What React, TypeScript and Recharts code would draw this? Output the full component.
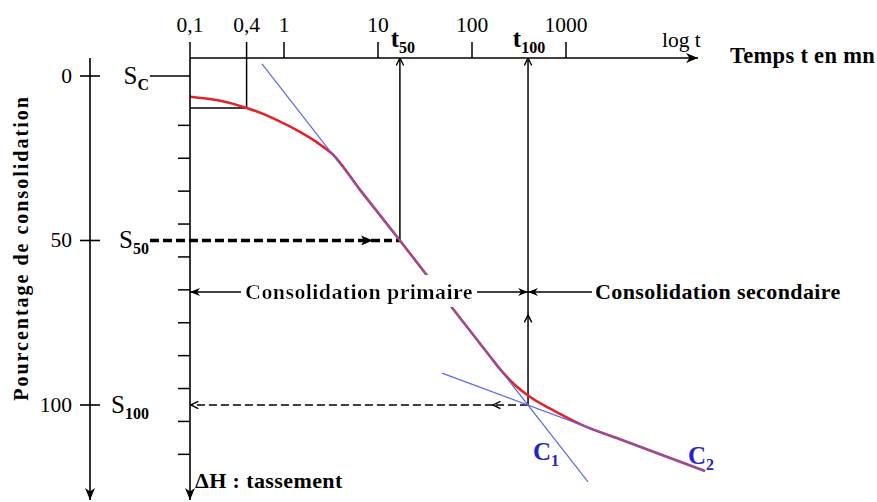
import React from 'react';
import { ComposedChart, Line, XAxis, YAxis, ReferenceLine, ReferenceDot, Label } from 'recharts';

const SERIF = '"Liberation Serif", "Times New Roman", Times, serif';

// ---- time axis (minutes, logarithmic) ----
const timeTicks = [0.1, 0.4, 1, 10, 100, 1000];
const timeTickLabels = ['0,1', '0,4', '1', '10', '100', '1000'];
const T_MIN = 0.1;
const T_MAX = 43470;
const T_AXIS_END = 25350;
const T_OUTER = 0.00863;
const T_LEFT = 0.0375;
const T_BOX = 0.4;
const T50 = 17.1;
const T100 = 394.5;
const T_S50_ARROW = 8.63;
const T_S100_ARROW = 167;
const T_PRIMAIRE = 6.28;
const T_SECONDAIRE = 2036;
const T_SEC_LINE_END = 1890;

// ---- percentage axis ----
const P_MIN = -5.47;
const P_MAX = 128.88;
const percentTicks = [0, 50, 100];
const percentSubs = ['C', '50', '100'];
const innerTicks = [15, 25, 35, 45, 55, 65, 75, 85, 95, 105, 115];
const P_BOX = 9.7;
const P_PHASE = 65.65;
const P_UP_ARROW = 72.6;

// ---- measured curve ----
const curveT = [0.1, 0.199, 0.4, 0.8, 1.48, 2.3, 3.24, 6.44, 17.1, 58.3, 155, 208, 286, 394.5, 598, 863, 1409, 3750, 10000, 30130];
const curveP = [6.3, 7.4, 9.7, 13.1, 17.0, 20.4, 23.6, 34.6, 50, 69.6, 85.2, 89.8, 93.9, 97.1, 100.3, 102.7, 105.8, 110.4, 115.0, 120.1];
// ---- tangents ----
const c1T = [0.583, 1714];
const c1P = [-3.65, 123.4];
const c2T = [48, 30130];
const c2P = [90.3, 120.1];

const curveData = curveT.map((t, i) => ({ t, p: curveP[i] }));
const c1Data = c1T.map((t, i) => ({ t, p: c1P[i] }));
const c2Data = c2T.map((t, i) => ({ t, p: c2P[i] }));

const RED = '#e3222b';
const BLUE = '#5868e8';
const DARKBLUE = '#2424c8';

const seg = (key: string, x1: number, y1: number, x2: number, y2: number, style: any = {}) => (
  <ReferenceLine
    key={key}
    xAxisId="t"
    yAxisId="inner"
    ifOverflow="visible"
    segment={[{ x: x1, y: y1 }, { x: x2, y: y2 }]}
    shape={(p: any) => (
      <line x1={p.x1} y1={p.y1} x2={p.x2} y2={p.y2} stroke="#000" strokeWidth={1.5} fill="none" {...style} />
    )}
  />
);

const txt = (key: string, x: number, y: number, render: (cx: number, cy: number) => React.ReactNode) => (
  <ReferenceDot
    key={key}
    xAxisId="t"
    yAxisId="inner"
    x={x}
    y={y}
    r={1}
    ifOverflow="visible"
    shape={(p: any) => <g>{render(p.cx, p.cy)}</g>}
  />
);

const YTitle = (props: any) => {
  const vb = props.viewBox;
  const cx = vb.x + 21;
  const cy = vb.y + vb.height / 2 - 31;
  return (
    <text
      x={cx}
      y={cy}
      transform={`rotate(-90, ${cx}, ${cy})`}
      textAnchor="middle"
      dominantBaseline="central"
      fontFamily={SERIF}
      fontWeight="bold"
      fontSize={20}
      letterSpacing={2}
      fill="#000"
    >
      Pourcentage de consolidation
    </text>
  );
};

const bold = { fontFamily: SERIF, fontWeight: 'bold' as const, fill: '#000' };

export default function App() {
  return (
    <div style={{ position: 'absolute', left: 0, top: 0, width: 877, height: 502, background: '#fff' }}>
      <svg width={0} height={0} style={{ position: 'absolute' }}>
        <defs>
          <marker id="arrFill" viewBox="0 0 12 10" refX={12} refY={5} markerWidth={12} markerHeight={10} markerUnits="userSpaceOnUse" orient="auto">
            <path d="M0,0 L12,5 L0,10 L3.5,5 Z" fill="#000" />
          </marker>
          <marker id="arrSmall" viewBox="0 0 10 8" refX={10} refY={4} markerWidth={10} markerHeight={8} markerUnits="userSpaceOnUse" orient="auto">
            <path d="M0,0 L10,4 L0,8 L3,4 Z" fill="#000" />
          </marker>
          <marker id="arrBold" viewBox="0 0 12 10" refX={11} refY={5} markerWidth={12} markerHeight={10} markerUnits="userSpaceOnUse" orient="auto">
            <path d="M0,0 L12,5 L0,10 L3,5 Z" fill="#000" />
          </marker>
          <marker id="arrOpen" viewBox="0 0 9 9" refX={8.5} refY={4.5} markerWidth={9} markerHeight={9} markerUnits="userSpaceOnUse" orient="auto">
            <path d="M1,0.8 L8.5,4.5 L1,8.2" fill="none" stroke="#000" strokeWidth={1.4} />
          </marker>
          <filter id="wbg" x="-0.015" y="-0.12" width="1.03" height="1.24">
            <feFlood floodColor="#ffffff" />
            <feComposite in="SourceGraphic" operator="over" />
          </filter>
        </defs>
      </svg>
      <ComposedChart width={877} height={502} margin={{ top: 0, right: 157, bottom: 2, left: 0 }}>
        <XAxis
          xAxisId="t"
          dataKey="t"
          type="number"
          scale="log"
          domain={[T_MIN, T_MAX]}
          orientation="top"
          height={58}
          ticks={timeTicks}
          interval={0}
          tickFormatter={(v: number) => timeTickLabels[timeTicks.indexOf(v)]}
          axisLine={false}
          stroke="#000"
          tickLine={{ stroke: '#000', strokeWidth: 1.5 }}
          tickSize={16}
          tickMargin={10}
          tick={{ fill: '#000', fontSize: 21.5, fontFamily: SERIF }}
        />
        <YAxis
          yAxisId="inner"
          type="number"
          domain={[P_MIN, P_MAX]}
          reversed
          width={100}
          ticks={innerTicks}
          interval={0}
          tickSize={12}
          tickFormatter={() => ''}
          stroke="#000"
          axisLine={{ stroke: '#000', strokeWidth: 1.6, markerEnd: 'url(#arrFill)' }}
          tickLine={{ stroke: '#000', strokeWidth: 1.5 }}
        />
        <YAxis
          yAxisId="outer"
          type="number"
          domain={[P_MIN, P_MAX]}
          reversed
          width={90}
          ticks={percentTicks}
          interval={0}
          tickLine={false}
          tick={false}
          stroke="#000"
          axisLine={{ stroke: '#000', strokeWidth: 1.6, markerEnd: 'url(#arrFill)' }}
          label={<Label content={YTitle} />}
        />

        {/* top time axis line with arrow */}
        {seg('axisT', T_MIN, P_MIN, T_AXIS_END, P_MIN, { strokeWidth: 1.6, markerEnd: 'url(#arrFill)' })}
        {/* 0.4 min construction box and Sc */}
        {seg('boxV', T_BOX, P_MIN, T_BOX, P_BOX)}
        {seg('boxH', T_MIN, P_BOX, T_BOX, P_BOX)}
        {seg('sc', T_LEFT, 0, T_MIN, 0)}
        {/* S50 -> t50 */}
        {seg('s50a', T_LEFT, 50, T_S50_ARROW, 50, { strokeWidth: 3.6, strokeDasharray: '9 4', markerEnd: 'url(#arrBold)' })}
        {seg('s50b', T_S50_ARROW, 50, T50, 50, { strokeWidth: 3.6, strokeDasharray: '8 4' })}
        {seg('t50', T50, 50, T50, P_MIN, { markerEnd: 'url(#arrOpen)' })}
        {/* t100 */}
        {seg('t100a', T100, 100, T100, P_UP_ARROW, { markerEnd: 'url(#arrOpen)' })}
        {seg('t100b', T100, P_UP_ARROW, T100, P_MIN, { markerEnd: 'url(#arrOpen)' })}
        {/* S100 dashed */}
        {seg('s100a', T100, 100, T_S100_ARROW, 100, { strokeDasharray: '8 4', markerEnd: 'url(#arrOpen)' })}
        {seg('s100b', T_S100_ARROW, 100, T_MIN * 1.02, 100, { strokeDasharray: '8 4', markerEnd: 'url(#arrOpen)' })}
        {/* phases */}
        {seg('prim1', T_PRIMAIRE, P_PHASE, T_MIN, P_PHASE, { markerEnd: 'url(#arrSmall)' })}
        {seg('prim2', T_PRIMAIRE, P_PHASE, T100, P_PHASE, { markerEnd: 'url(#arrSmall)' })}
        {seg('sec', T_SEC_LINE_END, P_PHASE, T100, P_PHASE, { markerEnd: 'url(#arrSmall)' })}

        <Line xAxisId="t" yAxisId="inner" data={curveData} dataKey="p" type="monotone" stroke={RED} strokeWidth={2.6} dot={false} isAnimationActive={false} />
        <Line xAxisId="t" yAxisId="inner" data={c1Data} dataKey="p" type="linear" stroke={BLUE} strokeWidth={1.2} dot={false} isAnimationActive={false} />
        <Line xAxisId="t" yAxisId="inner" data={c2Data} dataKey="p" type="linear" stroke={BLUE} strokeWidth={1.2} dot={false} isAnimationActive={false} />

        {/* outer percentage axis: cross ticks, values and S labels */}
        {percentTicks.map((v, i) =>
          txt('s' + v, T_OUTER, v, (x, y) => (
            <g>
              <line x1={x - 10} x2={x + 10} y1={y} y2={y} stroke="#000" strokeWidth={1.6} />
              <text x={x - 18} y={y + 7} textAnchor="end" fontFamily={SERIF} fontSize={21.5} fill="#000">
                {v}
              </text>
              <text x={x + 59} y={y + 8} textAnchor="end" fontFamily={SERIF} fontSize={25} fill="#000">
                S
                <tspan fontSize={16} dy={6} fontWeight="bold">
                  {percentSubs[i]}
                </tspan>
              </text>
            </g>
          ))
        )}

        {txt('t50l', T50, P_MIN, (x, y) => (
          <text x={x + 3} y={y - 11} textAnchor="middle" {...bold} fontSize={25}>
            t<tspan fontSize={16} dy={6}>50</tspan>
          </text>
        ))}
        {txt('t100l', T100, P_MIN, (x, y) => (
          <text x={x + 1} y={y - 11} textAnchor="middle" {...bold} fontSize={25}>
            t<tspan fontSize={16} dy={6}>100</tspan>
          </text>
        ))}
        {txt('logt', 10500, -8.81, (x, y) => (
          <text x={x} y={y} fontFamily={SERIF} fontSize={21.5} fill="#000">log t</text>
        ))}
        {txt('temps', 55590, -3.95, (x, y) => (
          <text x={x} y={y} {...bold} fontSize={22.5} letterSpacing={0.3}>Temps t en mn</text>
        ))}
        {txt('prim', T_PRIMAIRE, P_PHASE, (x, y) => (
          <text x={x} y={y + 7} textAnchor="middle" {...bold} fontSize={22} letterSpacing={0.4} filter="url(#wbg)">Consolidation primaire</text>
        ))}
        {txt('secl', T_SECONDAIRE, P_PHASE, (x, y) => (
          <text x={x} y={y + 7} {...bold} fontSize={22} letterSpacing={0.4}>Consolidation secondaire</text>
        ))}
        {txt('dh', 0.113, 125.2, (x, y) => (
          <text x={x} y={y} {...bold} fontSize={22} letterSpacing={0.4}>ΔH : tassement</text>
        ))}
        {txt('c1', 445.6, 116.7, (x, y) => (
          <text x={x} y={y} fontFamily={SERIF} fontWeight="bold" fill={DARKBLUE} fontSize={25}>
            C<tspan fontSize={16} dy={6}>1</tspan>
          </text>
        ))}
        {txt('c2', 19860, 117.9, (x, y) => (
          <text x={x} y={y} fontFamily={SERIF} fontWeight="bold" fill={DARKBLUE} fontSize={25}>
            C<tspan fontSize={16} dy={6}>2</tspan>
          </text>
        ))}
      </ComposedChart>
    </div>
  );
}
